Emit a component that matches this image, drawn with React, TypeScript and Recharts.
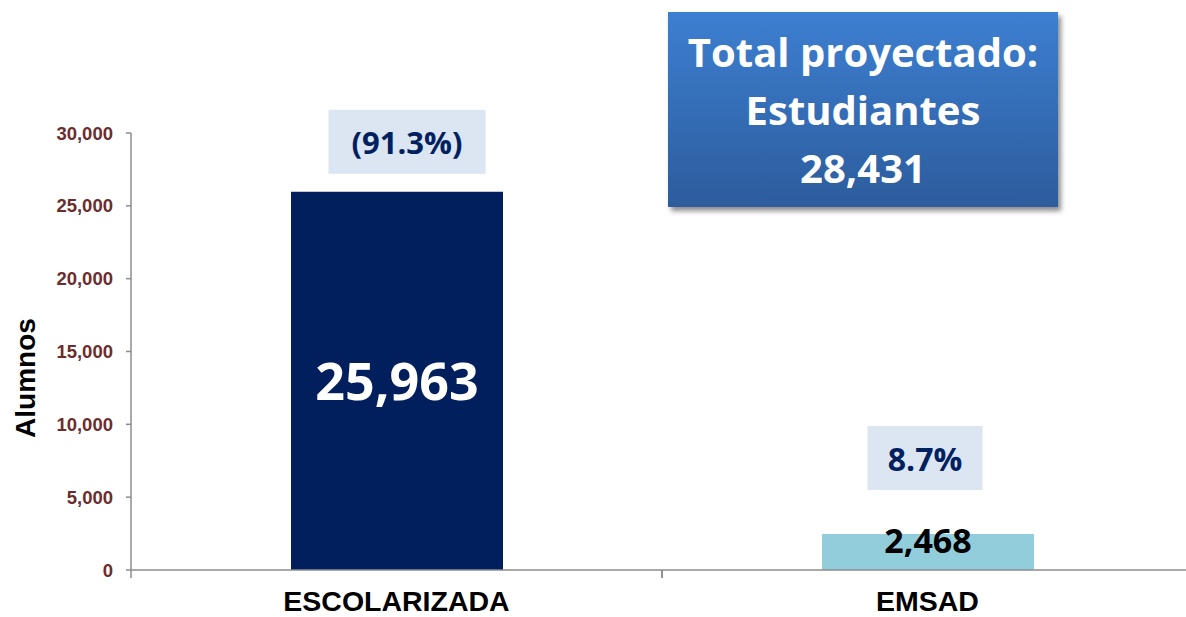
import React from 'react';
import { BarChart, Bar, XAxis, YAxis, Cell, LabelList } from 'recharts';

const categories = ['ESCOLARIZADA', 'EMSAD'];
const alumnos = [25963, 2468];
const porcentajes = ['(91.3%)', '8.7%'];
const yTicks = [0, 5000, 10000, 15000, 20000, 25000, 30000];
const totalLines = ['Total proyectado:', 'Estudiantes', '28,431'];

const barColors = ['#001F5C', '#92CDDC'];
const valueColors = ['#FFFFFF', '#000000'];
const valueSizes = [52, 34];
const pctOffsets = [50, 76];
const pctDx = [10, -3];
const pctSizes = [31, 32];
const pctBoxWidths = [157, 115];

const data = categories.map((c, i) => ({ cat: c, value: alumnos[i], pct: porcentajes[i] }));

const W = 1200;
const H = 617;
const MARGIN = { top: 133, right: 7, bottom: 7, left: 0 };
const Y_W = 131;
const X_H = 40;
const PLOT_W = W - MARGIN.left - MARGIN.right - Y_W;
const BAND = PLOT_W / categories.length;

const AXIS_COLOR = '#8C8C8C';
const NUM_FONT = '"Open Sans", "Noto Sans", sans-serif';
const ARIAL = '"Liberation Sans", Arial, sans-serif';

const XTick = (props: any) => {
  const { x, y, payload } = props;
  return (
    <g>
      <line x1={x - BAND / 2} x2={x - BAND / 2} y1={y} y2={y + 8} stroke={AXIS_COLOR} strokeWidth={1.5} />
      <line x1={x + BAND / 2} x2={x + BAND / 2} y1={y} y2={y + 8} stroke={AXIS_COLOR} strokeWidth={1.5} />
      <text x={x} y={y + 41} textAnchor="middle" fontFamily={ARIAL} fontWeight="bold" fontSize={28.5} fill="#000">
        {payload.value}
      </text>
    </g>
  );
};

const ValueLabel = (props: any) => {
  const { x, y, width, height, value, index } = props;
  const cx = x + width / 2;
  const cy = height > 100 ? y + height / 2 - 1 : y + 6;
  return (
    <text x={cx} y={cy} textAnchor="middle" dominantBaseline="central" fontFamily={NUM_FONT} fontWeight="bold"
      fontSize={valueSizes[index]} fill={valueColors[index]}>
      {Number(value).toLocaleString('en-US')}
    </text>
  );
};

const PctLabel = (props: any) => {
  const { x, y, width, value, index } = props;
  const cx = x + width / 2 + pctDx[index];
  const cy = y - pctOffsets[index];
  const bw = pctBoxWidths[index];
  const bh = 64;
  return (
    <g>
      <rect x={cx - bw / 2} y={cy - bh / 2} width={bw} height={bh} fill="#DCE6F2" />
      <text x={cx} y={cy} textAnchor="middle" dominantBaseline="central" fontFamily={NUM_FONT} fontWeight="bold"
        fontSize={pctSizes[index]} fill="#002060">
        {value}
      </text>
    </g>
  );
};

const YLabel = () => {
  const cx = 25;
  const cy = 378;
  return (
    <text x={cx} y={cy} transform={`rotate(-90, ${cx}, ${cy})`} textAnchor="middle" dominantBaseline="central"
      fontFamily={ARIAL} fontWeight="bold" fontSize={28} fill="#000">
      Alumnos
    </text>
  );
};

export default function App() {
  return (
    <div style={{ position: 'absolute', left: 0, top: 0, width: 1186, height: 617, overflow: 'hidden', background: '#fff' }}>
      <BarChart width={W} height={H} data={data} margin={MARGIN}>
        <XAxis dataKey="cat" height={X_H} tickLine={false} tickSize={0} tickMargin={0}
          axisLine={{ stroke: AXIS_COLOR, strokeWidth: 1.5 }} tick={<XTick />} interval={0} />
        <YAxis width={Y_W} domain={[0, 30000]} ticks={yTicks} interval={0}
          tickFormatter={(v: number) => v.toLocaleString('en-US')}
          axisLine={{ stroke: AXIS_COLOR, strokeWidth: 1.5 }} tickLine={{ stroke: AXIS_COLOR, strokeWidth: 1.5 }}
          tickSize={5} tickMargin={13}
          tick={{ fill: '#6B2D2D', fontFamily: ARIAL, fontWeight: 'bold', fontSize: 18.5 }}
          label={<YLabel />} />
        <Bar dataKey="value" barSize={212} isAnimationActive={false}>
          {data.map((d, i) => (
            <Cell key={d.cat} fill={barColors[i]} />
          ))}
          <LabelList dataKey="value" content={<ValueLabel />} />
          <LabelList dataKey="pct" content={<PctLabel />} />
        </Bar>
      </BarChart>
      <div style={{
        position: 'absolute', left: 668, top: 12, width: 390, height: 195,
        background: 'linear-gradient(to bottom, #3D7FD1, #2C5C9C)',
        boxShadow: '3px 4px 5px rgba(0,0,0,0.45)',
        color: '#fff', fontFamily: NUM_FONT, fontWeight: 'bold', fontSize: 40,
        lineHeight: '58px', textAlign: 'center', paddingTop: 11, boxSizing: 'border-box'
      }}>
        {totalLines.map((t) => (
          <div key={t}>{t}</div>
        ))}
      </div>
    </div>
  );
}
